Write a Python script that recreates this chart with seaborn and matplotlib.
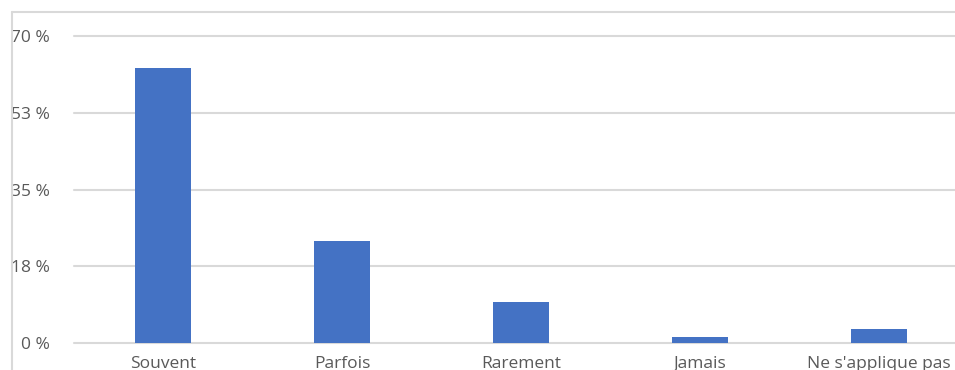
import matplotlib
matplotlib.use("Agg")
import matplotlib.pyplot as plt
import seaborn as sns
import pandas as pd
from matplotlib.lines import Line2D

categories = ["Souvent", "Parfois", "Rarement", "Jamais", "Ne s'applique pas"]
values = [62.8, 23.3, 9.3, 1.4, 3.3]
yticks = [0, 17.5, 35, 52.5, 70]
ytick_labels = ["0 %", "18 %", "35 %", "53 %", "70 %"]

sns.set_theme(style="white")
plt.rcParams['font.family'] = ['Open Sans', 'DejaVu Sans']

W, H = 955, 370
fig = plt.figure(figsize=(W / 100, H / 100), dpi=100)
ax = fig.add_axes([73.5 / W, (H - 343) / H, (968.5 - 73.5) / W, 307 / H])

df = pd.DataFrame({"cat": categories, "val": values})
sns.barplot(data=df, x="cat", y="val", color="#4472C4", width=0.31,
            saturation=1, linewidth=0, ax=ax, zorder=3)

ax.set_xlim(-0.5, 4.5)
ax.set_ylim(0, 70)
ax.set_yticks(yticks)
ax.set_yticklabels(ytick_labels)
ax.set_xlabel("")
ax.set_ylabel("")
for s in ax.spines.values():
    s.set_visible(False)
ax.yaxis.grid(True, color="#d9d9d9", linewidth=1.5, zorder=0)
ax.set_axisbelow(True)
for gl in ax.get_ygridlines():
    gl.set_clip_on(False)
ax.tick_params(axis="y", length=0, pad=17, labelsize=12.5, labelcolor="#595959")
ax.tick_params(axis="x", length=0, pad=9, labelsize=12.5, labelcolor="#595959")

# outer chart frame
fig.add_artist(Line2D([12 / W, 1.0], [1 - 12 / H, 1 - 12 / H], transform=fig.transFigure,
                      color="#d9d9d9", linewidth=1.5))
fig.add_artist(Line2D([12 / W, 12 / W], [0, 1 - 12 / H], transform=fig.transFigure,
                      color="#d9d9d9", linewidth=1.5))

fig.savefig("out.png", dpi=100)
